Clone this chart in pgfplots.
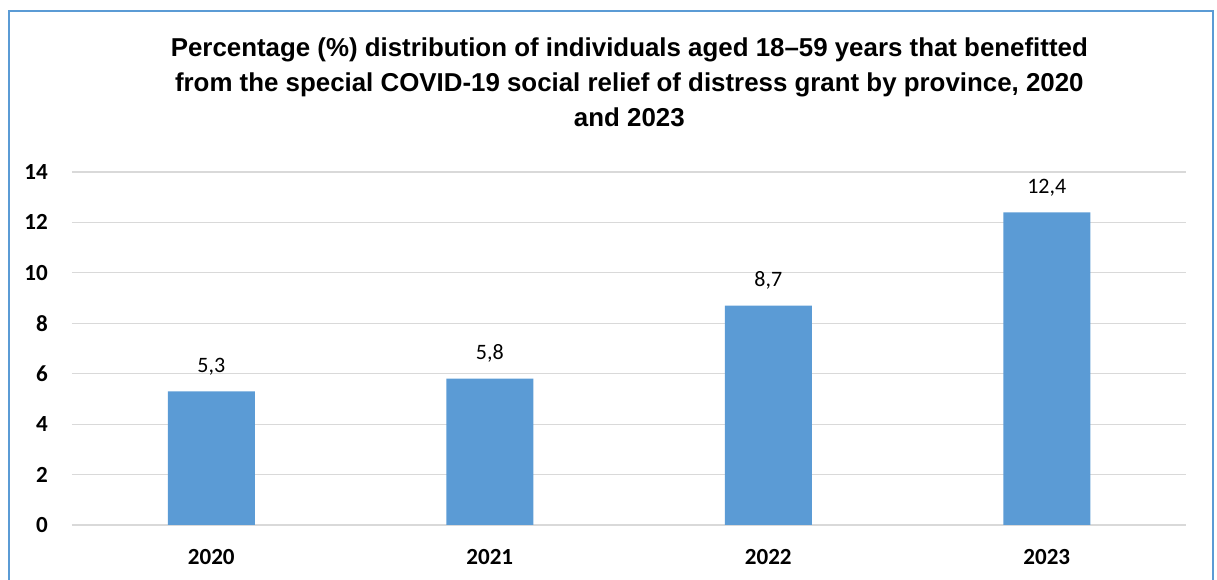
\documentclass[border=0pt]{standalone}
\usepackage{pgfplots}
\pgfplotsset{compat=1.18}
\usepackage{fontspec}
\setmainfont{Carlito}
\newfontfamily\titlefont{Liberation Sans}
\definecolor{barblue}{HTML}{5B9BD5}
\definecolor{frameblue}{HTML}{5B9BD5}
\definecolor{gridgray}{HTML}{D9D9D9}
\begin{document}
\begin{tikzpicture}
\useasboundingbox (0,0) rectangle (912.75pt,435pt);
\clip (0,0) rectangle (912.75pt,435pt);
\draw[frameblue, line width=1.5pt] (6.4pt,-10pt) rectangle (910.1pt,426.75pt);
\node[align=center, font=\titlefont\fontsize{19.4pt}{26.4pt}\selectfont\bfseries] at (472pt,373.5pt)
{Percentage (\%) distribution of individuals aged 18–59 years that benefitted\\
from the special COVID-19 social relief of distress grant by province, 2020\\
and 2023};
\begin{axis}[
  at={(54pt,41.25pt)}, anchor=south west,
  scale only axis, width=835.5pt, height=264.75pt,
  xmin=-0.5, xmax=3.5, ymin=0, ymax=14,
  ybar, bar width=65.25pt,
  xtick={0,1,2,3}, xticklabels={2020,2021,2022,2023},
  ytick={0,2,...,14},
  ymajorgrids, grid style={gridgray, line width=0.9pt},
  axis line style={draw=none}, major tick length=0pt,
  tick label style={font=\fontsize{17.3pt}{20pt}\selectfont\bfseries},
  /pgf/number format/assume math mode=true,
  yticklabel style={anchor=east, inner sep=0pt, xshift=-18pt},
  xticklabel style={anchor=center, inner sep=0pt, yshift=-24pt},
  nodes near coords,
  nodes near coords style={font=\fontsize{16.5pt}{20pt}\selectfont, anchor=center, yshift=18.75pt,
    /pgf/number format/.cd, fixed, fixed zerofill, precision=1, use comma, assume math mode=true},
]
\addplot[fill=barblue, draw=none] coordinates {(0,5.3) (1,5.8) (2,8.7) (3,12.4)};
\end{axis}
\end{tikzpicture}
\end{document}
